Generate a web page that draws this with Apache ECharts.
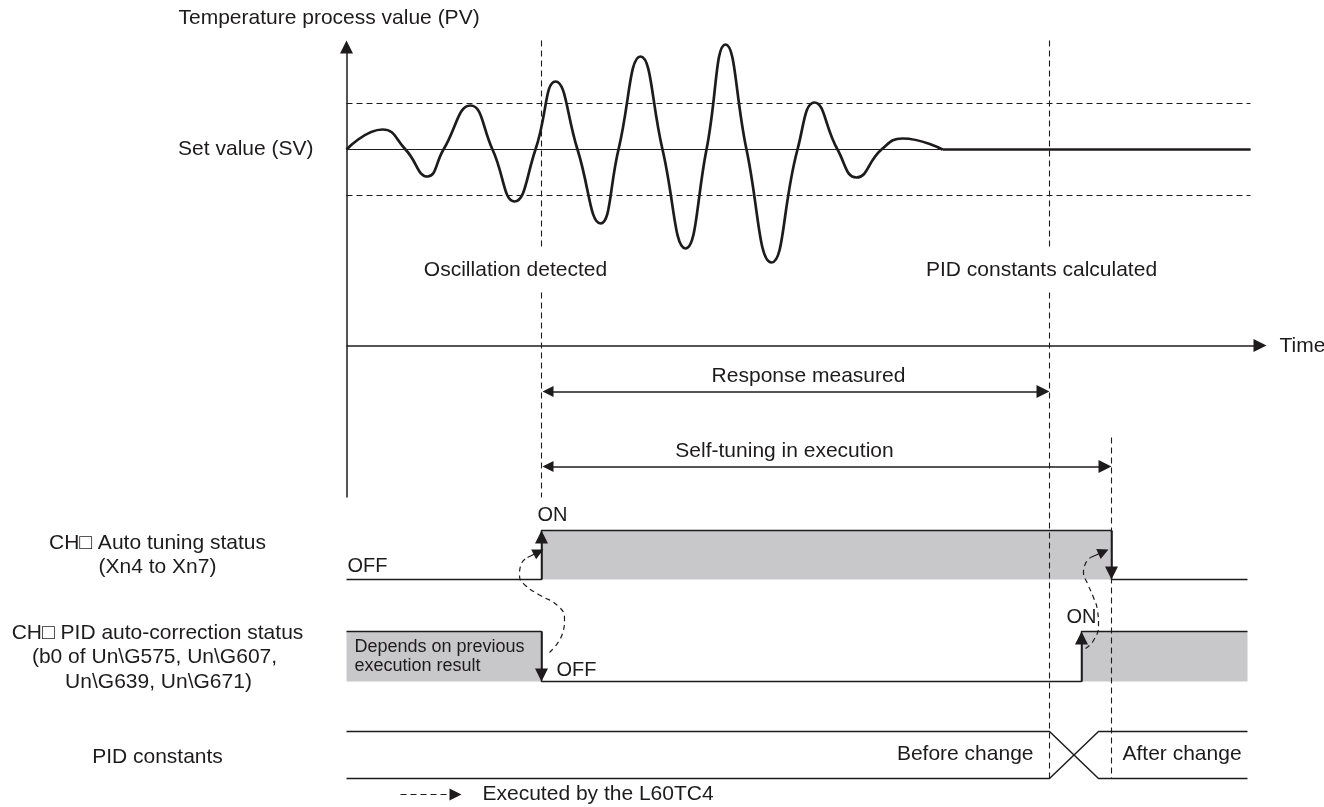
<!DOCTYPE html>
<html><head><meta charset="utf-8">
<script src="https://cdn.jsdelivr.net/npm/echarts@6/dist/echarts.min.js"></script>
<style>html,body{margin:0;padding:0;background:#fff}#c{width:1324px;height:807px}</style>
</head><body><div id="c"></div><script>
// ---- Data (time units along x, diagram level along y) ----
// Temperature process value: extrema and set-value crossings
const pvTime  = [346,382,405,427,443,470,492,514,535,555,577,600,618,640,662,685,706,725,746,771,797,814,837,856,881,902,942];
const pvLevel = [149,129,149,176,149,105,149,201,149, 81,149,223,149, 56,149,248,149, 44,149,262,149,102,149,177,149,138,149];
const pvSettledTime = [942,1250];
const svLevel = 149;
const bandUpper = 103, bandLower = 195;
const tStart = 346, tEnd = 1250, tSigEnd = 1247;
const tOscDetected = 541, tPidCalc = 1049, tTuneEnd = 1111, tCorrOn = 1081, tXEnd = 1098;
// signal levels
const atOn = 530, atOff = 579;          // auto tuning status
const pcOn = 631, pcOff = 681;          // PID auto-correction status
const busTop = 731, busBottom = 778;    // PID constants
const labels = [
  ['Temperature process value (PV)', 178, 18, 'left', 21],
  ['Set value (SV)', 313, 149, 'right', 21],
  ['Oscillation detected', 515, 270, 'center', 21],
  ['PID constants calculated', 1041, 270, 'center', 21],
  ['Time', 1279, 346, 'left', 21],
  ['Response measured', 808, 376, 'center', 21],
  ['Self-tuning in execution', 784, 451, 'center', 21],
  ['ON', 537, 515, 'left', 20],
  ['OFF', 347, 566, 'left', 20],
  ['CH\u25A1 Auto tuning status', 157, 543, 'center', 21],
  ['(Xn4 to Xn7)', 157, 567, 'center', 21],
  ['CH\u25A1 PID auto-correction status', 157, 633, 'center', 21],
  ['(b0 of Un\\G575, Un\\G607,', 154, 657, 'center', 21],
  ['Un\\G639, Un\\G671)', 158, 682, 'center', 21],
  ['Depends on previous', 354, 647, 'left', 18],
  ['execution result', 354, 666, 'left', 18],
  ['OFF', 556, 670, 'left', 20],
  ['ON', 1066, 617, 'left', 20],
  ['Before change', 1033, 754, 'right', 21],
  ['After change', 1122, 754, 'left', 21],
  ['PID constants', 157, 757, 'center', 21],
  ['Executed by the L60TC4', 482, 794, 'left', 21]
];
const curve1 = [[549,652],[562,633],[564,618],[557,605],[540,595],[525,585],[519,575],[521,563],[527,557]];
const curve2 = [[1085,648],[1093,640],[1098,625],[1097,610],[1093,597],[1087,583],[1083,572],[1085,563],[1090,557]];

// ---- Chart ----
const INK = '#1e1b1c', GREY = '#c8c8ca';
const FONT = '"Liberation Sans", Arial, "DejaVu Sans", sans-serif';
const series = [];
function poly(points, width, dash, z, smooth) {
  series.push({type:'line', data:points, showSymbol:false, symbol:'none', silent:true, z:z||3,
    smooth: smooth||false, lineStyle:{color:INK, width:width, type:dash||'solid'}});
}
// arrow whose tip lands exactly at `tip` (symbols are centred on line ends)
function arrowCoords(from, tip, h, both) {
  const dx = tip[0]-from[0], dy = tip[1]-from[1], L = Math.hypot(dx,dy);
  const ux = dx/L, uy = dy/L;
  const end = [tip[0]-ux*h/2, tip[1]-uy*h/2];
  const start = both ? [from[0]+ux*h/2, from[1]+uy*h/2] : from;
  return {coords:[start, end]};
}
const HEAD = 13;
// single arrows
series.push({type:'lines', coordinateSystem:'cartesian2d', silent:true, z:4,
  symbol:['none','triangle'], symbolSize:[11,HEAD],
  lineStyle:{color:INK, width:1.5, opacity:1},
  data:[
    arrowCoords([tStart,497],[tStart,40],HEAD),
    arrowCoords([tStart,345],[1266,345],HEAD),
    arrowCoords([tOscDetected,atOff],[tOscDetected,atOn],HEAD),
    arrowCoords([tTuneEnd,atOn],[tTuneEnd,atOff],HEAD),
    arrowCoords([tOscDetected,pcOn],[tOscDetected,pcOff],HEAD),
    arrowCoords([tCorrOn,pcOff],[tCorrOn,pcOn],HEAD)
  ]});
// double arrows
series.push({type:'lines', coordinateSystem:'cartesian2d', silent:true, z:4,
  symbol:['triangle','triangle'], symbolSize:[11,HEAD],
  lineStyle:{color:INK, width:1.5, opacity:1},
  data:[
    arrowCoords([tOscDetected,391],[tPidCalc,391],HEAD,true),
    arrowCoords([tOscDetected,466],[tTuneEnd,466],HEAD,true)
  ]});
// dashed curved "executed by" arrows: heads
series.push({type:'lines', coordinateSystem:'cartesian2d', silent:true, z:4,
  symbol:['none','triangle'], symbolSize:[9,11],
  lineStyle:{color:INK, width:1.2, opacity:1},
  data:[
    arrowCoords([527,557],[543,549],11),
    arrowCoords([1090,557],[1108,549],11)
  ]});
// legend dashed arrow
series.push({type:'lines', coordinateSystem:'cartesian2d', silent:true, z:4,
  symbol:['none','triangle'], symbolSize:[10,12],
  lineStyle:{color:INK, width:1.2, type:[6,4], opacity:1},
  data:[arrowCoords([400,794],[461,794],12)]});
poly(curve1, 1.2, [5,4], 3, 0.5);
poly(curve2, 1.2, [5,4], 3, 0.5);

// PV waveform
poly(pvTime.map((t,i)=>[t,pvLevel[i]]), 2.7, 'solid', 5, 0.5);
poly(pvSettledTime.map(t=>[t,svLevel]), 2.7, 'solid', 5);
// SV and band
poly([[tStart,svLevel],[tEnd,svLevel]], 1.2, 'solid', 3);
poly([[tStart,bandUpper],[tEnd,bandUpper]], 1.1, [6,4], 3);
poly([[tStart,bandLower],[tEnd,bandLower]], 1.1, [6,4], 3);
// vertical dashed markers
poly([[tOscDetected,40],[tOscDetected,247]], 1.1, [6,4], 2);
poly([[tOscDetected,292],[tOscDetected,497]], 1.1, [6,4], 2);
poly([[tPidCalc,40],[tPidCalc,247]], 1.1, [6,4], 2);
poly([[tPidCalc,292],[tPidCalc,778]], 1.1, [6,4], 2);
poly([[tTuneEnd,437],[tTuneEnd,778]], 1.1, [6,4], 2);
// signals
poly([[tStart,atOff],[tOscDetected,atOff],[tOscDetected,atOn],[tTuneEnd,atOn],[tTuneEnd,atOff],[tSigEnd,atOff]], 1.5);
poly([[tStart,pcOn],[tOscDetected,pcOn],[tOscDetected,pcOff],[tCorrOn,pcOff],[tCorrOn,pcOn],[tSigEnd,pcOn]], 1.5);
poly([[tStart,busTop],[tPidCalc,busTop],[tXEnd,busBottom],[tSigEnd,busBottom]], 1.5);
poly([[tStart,busBottom],[tPidCalc,busBottom],[tXEnd,busTop],[tSigEnd,busTop]], 1.5);

// grey ON regions
const greyBoxes = [[tOscDetected,atOn,tTuneEnd,atOff],[tStart,pcOn,tOscDetected,pcOff],[tCorrOn,pcOn,tSigEnd,pcOff]];
series.push({type:'custom', silent:true, z:1, data:greyBoxes, encode:{x:[0,2], y:[1,3]},
  renderItem:(p,api)=>{
    const a = api.coord([api.value(0),api.value(1)]), b = api.coord([api.value(2),api.value(3)]);
    return {type:'rect', shape:{x:Math.min(a[0],b[0]), y:Math.min(a[1],b[1]), width:Math.abs(b[0]-a[0]), height:Math.abs(b[1]-a[1])}, style:{fill:GREY}};
  }});
// texts
series.push({type:'custom', silent:true, z:6, data:labels.map(l=>[l[1],l[2]]), encode:{x:0,y:1},
  renderItem:(p,api)=>{
    const L = labels[p.dataIndex];
    const c = api.coord([api.value(0),api.value(1)]);
    return {type:'text', x:c[0], y:c[1], style:{text:L[0], fill:INK, align:L[3], verticalAlign:'middle',
      font: L[4]+'px '+FONT}};
  }});

const chart = echarts.init(document.getElementById('c'), null, {renderer:'canvas'});
chart.setOption({
  animation:false,
  backgroundColor:'#ffffff',
  grid:{left:0,right:0,top:0,bottom:0},
  // half-pixel offset so that integer positions fall on pixel centres (crisp thin lines)
  xAxis:{type:'value', min:-0.5, max:1323.5, show:false},
  yAxis:{type:'value', min:-0.5, max:806.5, inverse:true, show:false},
  series: series
});
</script></body></html>
